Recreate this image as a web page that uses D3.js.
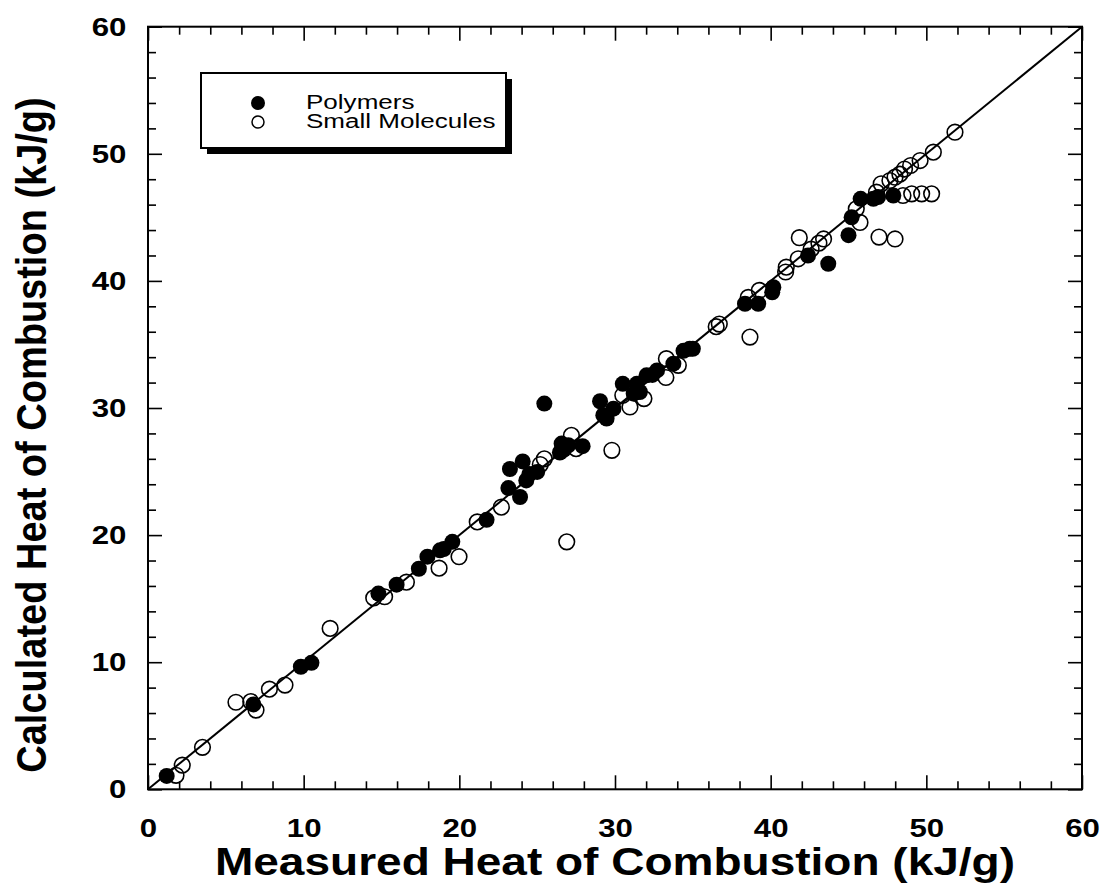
<!DOCTYPE html>
<html>
<head>
<meta charset="utf-8">
<script src="https://cdn.jsdelivr.net/npm/d3@7"></script>
<style>
	body { margin: 0; background: #fff; }
	text { font-family: 'Liberation Sans', Arial, sans-serif; }
</style>
</head>
<body>
<script>
// Polymers (filled)
const polyMeasured = [1.2, 6.77, 9.82, 10.5, 14.8, 15.97, 17.4, 17.95, 18.76, 19.0, 19.55, 21.75, 23.15, 23.9, 23.25, 24.07, 24.3, 24.5, 25.0, 25.46, 26.57, 26.46, 26.7, 27.0, 27.92, 29.04, 29.25, 29.46, 29.9, 30.5, 31.4, 31.2, 31.6, 32.03, 32.4, 32.7, 33.75, 34.4, 34.8, 35.0, 38.35, 39.2, 40.17, 40.1, 42.4, 43.7, 45.0, 45.2, 45.78, 46.6, 46.9, 47.88]
const polyCalculated = [1.05, 6.68, 9.64, 9.95, 15.4, 16.1, 17.35, 18.3, 18.8, 18.9, 19.47, 21.2, 23.7, 23.0, 25.2, 25.8, 24.3, 24.8, 24.97, 30.35, 27.2, 26.5, 26.7, 27.07, 27.0, 30.53, 29.43, 29.17, 29.95, 31.9, 31.9, 31.13, 31.26, 32.57, 32.6, 32.96, 33.49, 34.5, 34.66, 34.66, 38.2, 38.2, 39.5, 39.1, 42.0, 41.35, 43.6, 45.0, 46.46, 46.46, 46.6, 46.72]

// Small molecules (open)
const smallMeasured = [1.8, 2.2, 3.5, 5.65, 6.6, 6.94, 7.8, 8.8, 11.7, 14.5, 15.2, 16.6, 18.7, 19.98, 21.15, 22.7, 25.2, 25.46, 26.9, 27.2, 27.5, 29.8, 30.96, 30.5, 31.86, 33.27, 33.3, 34.07, 36.5, 36.7, 38.56, 38.67, 39.27, 41.0, 40.96, 41.77, 41.84, 42.6, 43.1, 43.4, 45.5, 45.74, 46.8, 46.96, 47.1, 47.66, 47.99, 47.99, 48.3, 48.6, 48.99, 49.6, 50.45, 51.84, 48.5, 49.06, 49.7, 50.34]
const smallCalculated = [1.1, 1.9, 3.3, 6.85, 6.9, 6.23, 7.88, 8.2, 12.66, 15.06, 15.15, 16.3, 17.4, 18.3, 21.04, 22.2, 25.55, 26.0, 19.47, 27.85, 26.8, 26.67, 30.08, 31.0, 30.74, 32.4, 33.88, 33.36, 36.4, 36.6, 38.7, 35.58, 39.25, 41.08, 40.7, 41.74, 43.4, 42.5, 42.97, 43.3, 45.67, 44.6, 46.98, 43.45, 47.64, 47.9, 48.16, 43.3, 48.4, 48.8, 49.08, 49.47, 50.13, 51.7, 46.72, 46.85, 46.85, 46.85]

const majorTicks = [0, 10, 20, 30, 40, 50, 60]
const minorTicks = d3.range(0, 61, 2).filter(d => d % 10 !== 0)

const legendLabels = ['Polymers', 'Small Molecules']

const width = 1100
const height = 890
const plot = { left: 148, right: 1082, top: 26.7, bottom: 789.3 }
const stretch = 1.2 // text in the original is wider than tall

const svg = d3.select('body').append('svg')
	.attr('width', width)
	.attr('height', height)

const x = d3.scaleLinear().domain([0, 60]).range([plot.left, plot.right])
const y = d3.scaleLinear().domain([0, 60]).range([plot.bottom, plot.top])

// ticks on all four sides, pointing inward
function addAxis(axisFn, scale, pos, values, size, labels) {
	const a = axisFn(scale).tickValues(values).tickSizeInner(-size).tickSizeOuter(0)
	if (!labels) a.tickFormat('')
	const g = svg.append('g').attr('transform', pos).call(a)
	g.select('.domain').remove()
	g.selectAll('line').attr('stroke', '#000').attr('stroke-width', 1.6)
	return g
}

const xb = addAxis(d3.axisBottom, x, `translate(0,${plot.bottom})`, majorTicks, 14, true)
addAxis(d3.axisBottom, x, `translate(0,${plot.bottom})`, minorTicks, 8, false)
addAxis(d3.axisTop, x, `translate(0,${plot.top})`, majorTicks, 14, false)
addAxis(d3.axisTop, x, `translate(0,${plot.top})`, minorTicks, 8, false)
const yl = addAxis(d3.axisLeft, y, `translate(${plot.left},0)`, majorTicks, 14, true)
addAxis(d3.axisLeft, y, `translate(${plot.left},0)`, minorTicks, 8, false)
addAxis(d3.axisRight, y, `translate(${plot.right},0)`, majorTicks, 14, false)
addAxis(d3.axisRight, y, `translate(${plot.right},0)`, minorTicks, 8, false)

xb.selectAll('text')
	.attr('y', 29)
	.attr('font-size', 26)
	.attr('font-weight', 'bold')
	.attr('fill', '#000')
	.attr('font-family', "'Liberation Sans', Arial, sans-serif")
	.attr('transform', `scale(${stretch},1)`)

yl.selectAll('text')
	.attr('x', -18)
	.attr('font-size', 26)
	.attr('font-weight', 'bold')
	.attr('fill', '#000')
	.attr('font-family', "'Liberation Sans', Arial, sans-serif")
	.attr('transform', `scale(${stretch},1)`)

// frame
svg.append('rect')
	.attr('x', plot.left)
	.attr('y', plot.top)
	.attr('width', plot.right - plot.left)
	.attr('height', plot.bottom - plot.top)
	.attr('fill', 'none')
	.attr('stroke', '#000')
	.attr('stroke-width', 2)

// y = x line
svg.append('line')
	.attr('x1', x(0)).attr('y1', y(0))
	.attr('x2', x(60)).attr('y2', y(60))
	.attr('stroke', '#000')
	.attr('stroke-width', 2)

const polymers = polyMeasured.map((d, i) => ({ m: d, c: polyCalculated[i] }))
const small = smallMeasured.map((d, i) => ({ m: d, c: smallCalculated[i] }))

svg.append('g').selectAll('circle')
	.data(polymers)
	.join('circle')
	.attr('cx', d => x(d.m))
	.attr('cy', d => y(d.c))
	.attr('r', 8)
	.attr('fill', '#000')

svg.append('g').selectAll('circle')
	.data(small)
	.join('circle')
	.attr('cx', d => x(d.m))
	.attr('cy', d => y(d.c))
	.attr('r', 7.8)
	.attr('fill', 'none')
	.attr('stroke', '#000')
	.attr('stroke-width', 1.6)

// legend with drop shadow
const lg = svg.append('g')
lg.append('rect')
	.attr('x', 207).attr('y', 79)
	.attr('width', 305).attr('height', 75)
	.attr('fill', '#000')
lg.append('rect')
	.attr('x', 201).attr('y', 73)
	.attr('width', 305).attr('height', 75)
	.attr('fill', '#fff')
	.attr('stroke', '#000')
	.attr('stroke-width', 2)
lg.append('circle').attr('cx', 258).attr('cy', 103).attr('r', 7).attr('fill', '#000')
lg.append('circle').attr('cx', 258).attr('cy', 122).attr('r', 6)
	.attr('fill', 'none').attr('stroke', '#000').attr('stroke-width', 1.5)
lg.selectAll('text.lab')
	.data(legendLabels)
	.join('text')
	.attr('class', 'lab')
	.attr('transform', (d, i) => `translate(306,${109 + i * 19}) scale(1.24,1)`)
	.attr('font-size', 21)
	.text(d => d)

// axis titles
svg.append('text')
	.attr('transform', `translate(615,875) scale(1.18,1)`)
	.attr('text-anchor', 'middle')
	.attr('font-size', 39)
	.attr('font-weight', 'bold')
	.text('Measured Heat of Combustion (kJ/g)')

svg.append('text')
	.attr('transform', `translate(46,435) scale(1.14,1) rotate(-90)`)
	.attr('text-anchor', 'middle')
	.attr('font-size', 38)
	.attr('font-weight', 'bold')
	.text('Calculated Heat of Combustion (kJ/g)')
</script>
</body>
</html>
